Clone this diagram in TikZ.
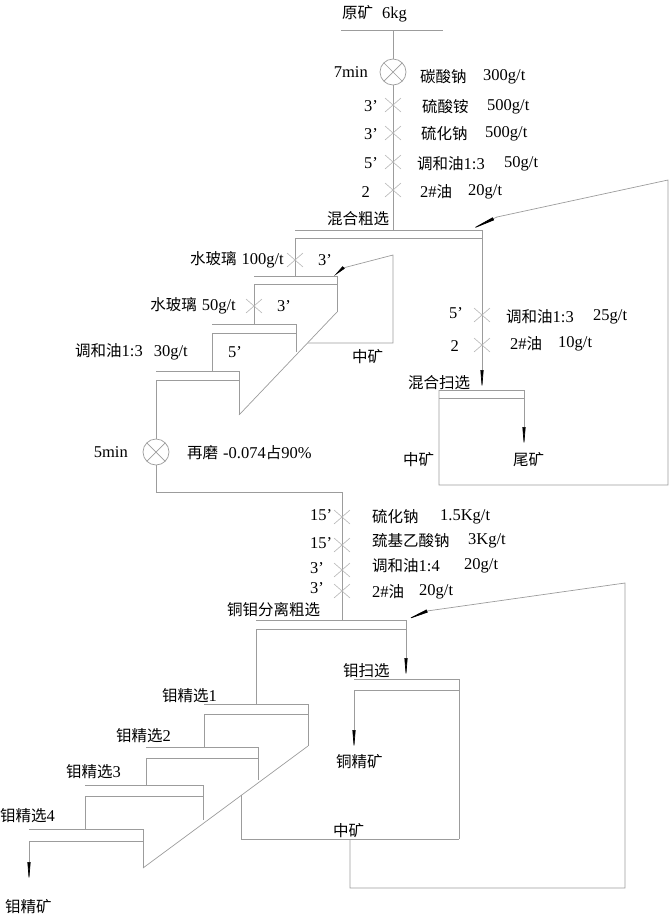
\documentclass[tikz,border=0pt]{standalone}
\usepackage{fontspec}
\setmainfont{Liberation Serif}
\newfontfamily\zhfont{Noto Sans CJK SC}
\newcommand{\zh}[1]{{\zhfont\fontsize{15.5}{16}\selectfont #1}}
\usetikzlibrary{arrows.meta}
\definecolor{lg}{HTML}{9C9C9C}
\definecolor{xg}{HTML}{B4B4B4}
\begin{document}
\begin{tikzpicture}[x=1pt,y=-1pt,
  ln/.style={draw=lg, line width=0.7pt},
  txt/.style={anchor=west, inner sep=0pt, font=\fontsize{16.5}{17}\selectfont},
  txe/.style={anchor=east, inner sep=0pt, font=\fontsize{16.5}{17}\selectfont},
  arr/.style={-{Triangle[length=#1,width=3pt,color=black]}},
  arr/.default=20pt,
  xmk/.pic={\draw[draw=xg,line width=0.6pt] (-8,-7)--(8,7) (-8,7)--(8,-7);},
  mill/.pic={\filldraw[draw=lg,fill=white,line width=0.7pt] (0,0) circle[radius=13pt];
             \draw[draw=lg,line width=0.7pt] (-9.2,-9.2)--(9.2,9.2) (-9.2,9.2)--(9.2,-9.2);}
]
\useasboundingbox (0,0) rectangle (672,922);

% ---------------- top feed ----------------
\node[txt] (ore) at (342,14) {\zh{原矿}\hspace{9pt}6kg};
\draw[ln] (341,30)--(443,30);
\draw[ln] (393,30)--(393,230);
\pic at (393,72) {mill};
\foreach \yy in {105,133,162,190} \pic at (393,\yy) {xmk};
\node[txe] (t7) at (368,72) {7min};
\node[txt] (r1) at (420,77) {\zh{碳酸钠}};   \node[txt] (d1) at (483,77) {300g/t};
\node[txe] (m2) at (378,106) {3’};
\node[txt] (r2) at (422,107) {\zh{硫酸铵}};   \node[txt] (d2) at (487,107) {500g/t};
\node[txe] (m3) at (378,134) {3’};
\node[txt] (r3) at (421,134) {\zh{硫化钠}};   \node[txt] (d3) at (485,134) {500g/t};
\node[txe] (m4) at (378,163) {5’};
\node[txt] (r4) at (417,164) {\zh{调和油}1:3}; \node[txt] (d4) at (504,164) {50g/t};
\node[txe] (m5) at (370,192) {2};
\node[txt] (r5) at (420,192) {2\#\zh{油}};    \node[txt] (d5) at (468,192) {20g/t};

% ---------------- 混合粗选 ----------------
\node[txt] (hhcx) at (327,219) {\zh{混合粗选}};
\draw[ln] (295,230)--(482,230) (295,238)--(482,238);
\draw[ln,arr] (482,230)--(482,390);
\pic at (482,315) {xmk};
\pic at (482,345) {xmk};
\node[txe] (m6) at (463,313) {5’};
\node[txt] (r6) at (506,317) {\zh{调和油}1:3}; \node[txt] (d6) at (593,317) {25g/t};
\node[txe] (m7) at (459,346) {2};
\node[txt] (r7) at (510,344) {2\#\zh{油}};    \node[txt] (d7) at (558,344) {10g/t};

% ---------------- 混合扫选 ----------------
\node[txt] (hhsx) at (408,383) {\zh{混合扫选}};
\draw[ln] (439,390)--(524,390) (439,398)--(524,398);
\draw[ln,arr] (524,390)--(524,447);
\node[txt] (wk) at (513,460) {\zh{尾矿}};
\node[txt] (zk1) at (403,460) {\zh{中矿}};
\draw[ln] (439,390)--(439,485)--(668,485)--(668,180)--(497,217);
\draw[ln,arr=26pt] (497,217)--(470,230);

% ---------------- upper cleaners ----------------
\draw[ln] (295,238)--(295,276);
\pic at (295,260) {xmk};
\node[txe] (s1) at (284,260) {\zh{水玻璃}\hspace{5pt}100g/t};
\node[txt] (s1m) at (318,260) {3’};
% cleaner 1
\draw[ln] (254,276)--(337,276) (254,284)--(337,284) (337,276)--(337,312);
\draw[ln] (254,284)--(254,324);
\pic at (254,306) {xmk};
\node[txe] (s2) at (236,306) {\zh{水玻璃}\hspace{5pt}50g/t};
\node[txt] (s2m) at (277,306) {3’};
% middlings loop
\draw[ln] (308,343)--(393,343)--(393,255)--(343,268);
\draw[ln,arr=13pt] (343,268)--(334,276);
\draw[ln] (337,312)--(239,415);
\node[txt] (zk2) at (352,357) {\zh{中矿}};
% cleaner 2
\draw[ln] (212,324)--(296,324) (212,333)--(296,333) (296,324)--(296,352);
\draw[ln] (212,333)--(212,371);
\node[txt] (s3) at (75,352) {\zh{调和油}1:3\hspace{11pt}30g/t};
\node[txt] (s3m) at (228,352) {5’};
% cleaner 3
\draw[ln] (156,371)--(239,371) (156,380)--(239,380) (239,371)--(239,415);
\draw[ln] (156,380)--(156,439);

% ---------------- regrind ----------------
\pic at (156,452) {mill};
\node[txe] (t5) at (128,452) {5min};
\node[txt] (rg) at (187,453) {\zh{再磨}\hspace{5pt}-0.074\zh{占}90\%};
\draw[ln] (156,465)--(156,492)--(342,492)--(342,620);
\foreach \yy in {517,545,570,591} \pic at (342,\yy) {xmk};
\node[txt] (n1) at (310,515) {15’};
\node[txt] (n2) at (310,543) {15’};
\node[txt] (n3) at (310,568) {3’};
\node[txt] (n4) at (310,588) {3’};
\node[txt] (q1) at (372,517) {\zh{硫化钠}};     \node[txt] (e1) at (440,517) {1.5Kg/t};
\node[txt] (q2) at (372,541) {\zh{巯基乙酸钠}}; \node[txt] (e2) at (468,541) {3Kg/t};
\node[txt] (q3) at (372,566) {\zh{调和油}1:4};  \node[txt] (e3) at (464,566) {20g/t};
\node[txt] (q4) at (372,592) {2\#\zh{油}};      \node[txt] (e4) at (419,592) {20g/t};

% ---------------- 铜钼分离粗选 ----------------
\node[txt] (tmfl) at (227,610) {\zh{铜钼分离粗选}};
\draw[ln] (256,620)--(406,620) (256,629)--(406,629);
\draw[ln] (256,629)--(256,704);
\draw[ln,arr] (406,620)--(406,678);
\draw[ln] (350,839)--(350,888)--(625,888)--(625,583)--(427,611);
\draw[ln,arr=23pt] (427,611)--(406,620);

% ---------------- 钼扫选 ----------------
\node[txt] (msx) at (343,671) {\zh{钼扫选}};
\draw[ln] (354,679)--(459,679) (354,690)--(459,690) (459,679)--(459,839);
\draw[ln,arr] (354,690)--(354,750);
\node[txt] (tjk) at (336,762) {\zh{铜精矿}};
\draw[ln] (241,795)--(241,839)--(459,839);
\node[txt] (zk3) at (333,831) {\zh{中矿}};

% ---------------- lower cleaners ----------------
\node[txt] (c1) at (162,696) {\zh{钼精选}1};
\draw[ln] (204,704)--(308,704) (204,714)--(308,714) (308,704)--(308,746);
\draw[ln] (204,714)--(204,747);
\node[txt] (c2) at (116,736) {\zh{钼精选}2};
\draw[ln] (146,747)--(258,747) (146,758)--(258,758) (258,747)--(258,780);
\draw[ln] (146,758)--(146,785);
\node[txt] (c3) at (66,772) {\zh{钼精选}3};
\draw[ln] (85,785)--(203,785) (85,796)--(203,796) (203,785)--(203,820);
\draw[ln] (85,796)--(85,829);
\node[txt] (c4) at (0,816) {\zh{钼精选}4};
\draw[ln] (29,829)--(143,829) (29,841)--(143,841) (143,829)--(143,868);
\draw[ln] (308,746)--(143,868);
\draw[ln,arr] (29,841)--(29,882);
\node[txt] (mjk) at (5,907) {\zh{钼精矿}};
\end{tikzpicture}
\end{document}
